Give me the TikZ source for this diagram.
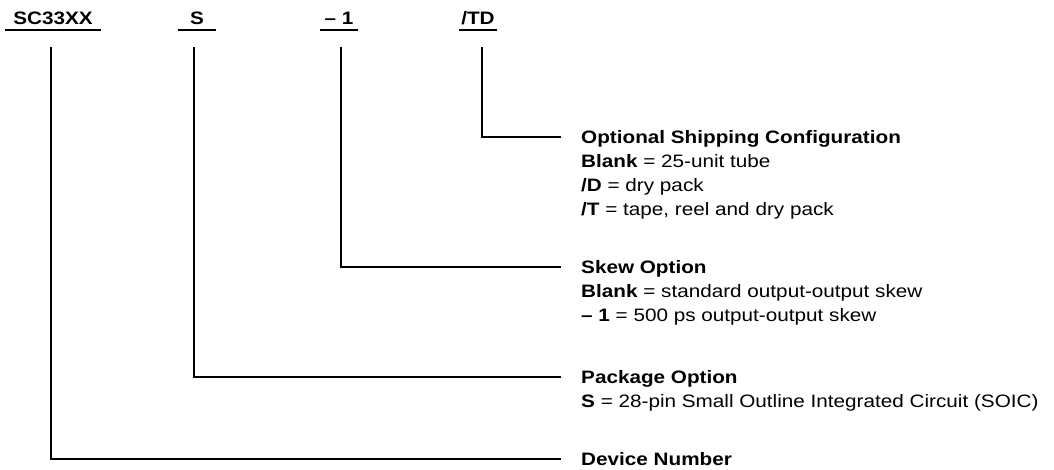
\documentclass[tikz,border=0pt]{standalone}
\usepackage{fontspec}
\setmainfont{Liberation Sans}[FakeStretch=1.15]
\usetikzlibrary{calc}
\begin{document}
\begin{tikzpicture}[x=1pt,y=-1pt,
  lbl/.style={font=\fontsize{18}{24}\selectfont\bfseries, inner sep=0pt, anchor=base},
  ttl/.style={font=\fontsize{18}{24}\selectfont\bfseries, inner sep=0pt, anchor=base west},
  txt/.style={font=\fontsize{18}{24}\selectfont, inner sep=0pt, anchor=base west},
  rule/.style={line width=1.8pt},
  conn/.style={line width=1.8pt}]
\useasboundingbox (0,0) rectangle (1054,470);

% part-number fields
\node[lbl] (pDev)  at (53,25)  {SC33XX};
\node[lbl] (pPkg)  at (197,25) {S};
\node[lbl] (pSkew) at (339,25) {– 1};
\node[lbl] (pShip) at (478,25) {/TD};
\draw[rule] ($(pDev.base)+(-48,5)$)  -- ($(pDev.base)+(48,5)$);
\draw[rule] ($(pPkg.base)+(-19,5)$)  -- ($(pPkg.base)+(19,5)$);
\draw[rule] ($(pSkew.base)+(-19,5)$) -- ($(pSkew.base)+(19,5)$);
\draw[rule] ($(pShip.base)+(-19,5)$) -- ($(pShip.base)+(19,5)$);

\coordinate (sDev)  at (51,47);
\coordinate (sPkg)  at (194,47);
\coordinate (sSkew) at (341,47);
\coordinate (sShip) at (482,47);

% descriptions
\node[ttl] (tShip) at (581,143.5) {Optional Shipping Configuration};
\node[txt] (bShip1) at ($(tShip.base west)+(0,24)$) {\textbf{Blank} = 25-unit tube};
\node[txt] (bShip2) at ($(bShip1.base west)+(0,24)$) {\textbf{/D} = dry pack};
\node[txt] (bShip3) at ($(bShip2.base west)+(0,24)$) {\textbf{/T} = tape, reel and dry pack};

\node[ttl] (tSkew) at (581,273.5) {Skew Option};
\node[txt] (bSkew1) at ($(tSkew.base west)+(0,24)$) {\textbf{Blank} = standard output-output skew};
\node[txt] (bSkew2) at ($(bSkew1.base west)+(0,24)$) {\textbf{– 1} = 500 ps output-output skew};

\node[ttl] (tPkg) at (581,383.5) {Package Option};
\node[txt] (bPkg1) at ($(tPkg.base west)+(0,24)$) {\textbf{S} = 28-pin Small Outline Integrated Circuit (SOIC)};

\node[ttl] (tDev) at (581,465.5) {Device Number};

% connectors
\draw[conn] (sShip) |- ($(tShip.base west)+(-20,-6.5)$);
\draw[conn] (sSkew) |- ($(tSkew.base west)+(-20,-6.5)$);
\draw[conn] (sPkg)  |- ($(tPkg.base west)+(-20,-6.5)$);
\draw[conn] (sDev)  |- ($(tDev.base west)+(-20,-6.5)$);
\end{tikzpicture}
\end{document}
